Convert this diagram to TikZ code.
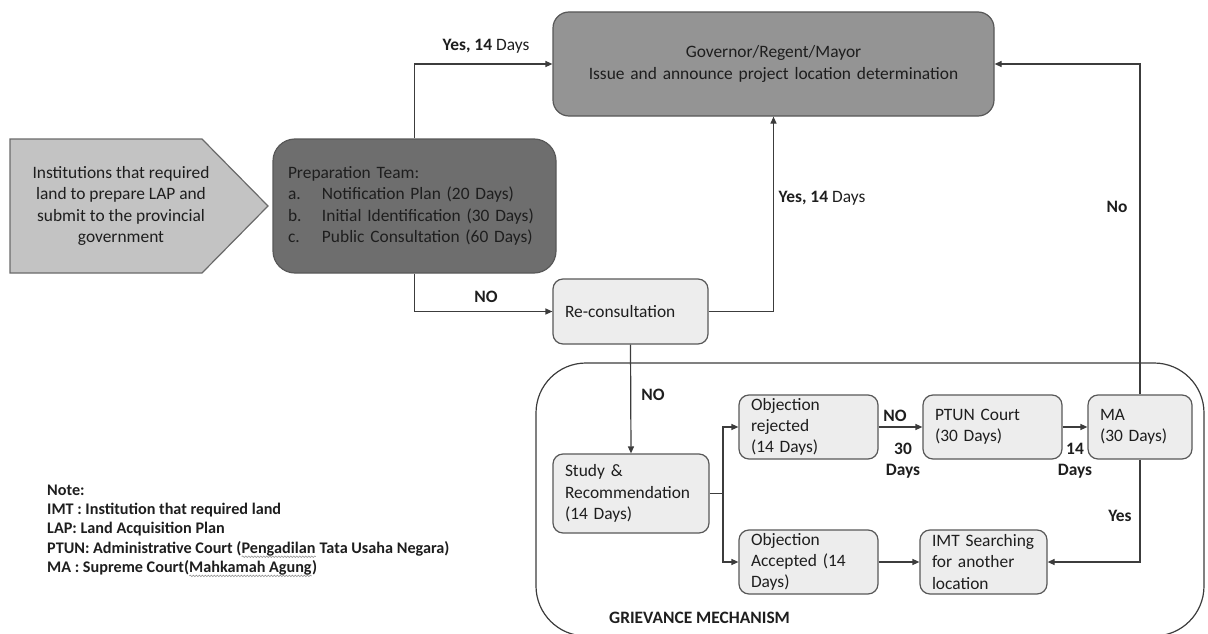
\documentclass[tikz,border=0pt]{standalone}
\usepackage{fontspec}
\setmainfont{Carlito}
\usetikzlibrary{arrows.meta,decorations.pathmorphing}

\definecolor{linegray}{HTML}{3C3C3C}
\definecolor{boxgray}{HTML}{585858}
\definecolor{palegray}{HTML}{EDEDED}
\definecolor{govgray}{HTML}{949494}
\definecolor{prepgray}{HTML}{6E6E6E}
\definecolor{pentgray}{HTML}{C3C3C3}
\definecolor{pentline}{HTML}{6A6A6A}
\definecolor{textcol}{HTML}{1E1E1E}
\definecolor{wavegray}{HTML}{8A8A8A}

\newcommand\boxfont{\fontsize{17.4}{21.3}\selectfont}
\newcommand\notefont{\fontsize{16.2}{19.2}\selectfont\bfseries}

% grey spell-check style wavy underline
\newsavebox\wavebox
\newcommand\spellwave[1]{\sbox\wavebox{#1}\rlap{\usebox\wavebox}%
  \tikz[x=1pt,y=1pt,baseline=0pt]\draw[wavegray, line width=0.5pt, decorate,
    decoration={snake, amplitude=0.8pt, segment length=3pt}] (0,-3.5) -- (\wd\wavebox,-3.5);}

\tikzset{
  box/.style={draw=boxgray, line width=1.2pt, fill=palegray, rounded corners=10pt,
    align=left, inner xsep=12pt, inner ysep=0pt, font=\boxfont, text=textcol},
  conn/.style={draw=linegray, line width=1.2pt, -{Triangle[length=7pt,width=6pt]}},
  plain/.style={draw=linegray, line width=1.2pt},
  lbl/.style={font=\boxfont, text=textcol, inner sep=0pt}
}

\begin{document}
\begin{tikzpicture}[x=1pt, y=-1pt]
\useasboundingbox (0,0) rectangle (1208,634);
\clip (0,0) rectangle (1208,634);

% grievance mechanism frame
\node[draw=linegray, line width=1.2pt, rounded corners=50pt,
      minimum width=668pt, minimum height=273pt, inner sep=0pt] (griev) at (870,499.5) {};
\node[lbl, anchor=west] (gmlabel) at (609,618) {\textbf{GRIEVANCE MECHANISM}};

% submitting institution (pentagon arrow)
\draw[draw=pentline, fill=pentgray, line width=1.2pt]
  (10,139) -- (202,139) -- (268,206) -- (202,273) -- (10,273) -- cycle;
\node[font=\boxfont, text=textcol, align=center, inner sep=0pt] (inst) at (121,206)
  {Institutions that required\\land to prepare LAP and\\submit to the provincial\\government};

% main boxes
\node[box, fill=govgray, rounded corners=16pt, align=center,
      minimum width=441pt, minimum height=104pt, text width=417pt] (gov) at (773.5,64)
  {Governor/Regent/Mayor\\Issue and announce project location determination};

\node[box, fill=prepgray, rounded corners=22pt, inner xsep=15pt,
      minimum width=283pt, minimum height=134pt, text width=253pt] (prep) at (414.5,206)
  {Preparation Team:\\
   \makebox[34pt][l]{a.}Notification Plan (20 Days)\\
   \makebox[34pt][l]{b.}Initial Identification (30 Days)\\
   \makebox[34pt][l]{c.}Public Consultation (60 Days)};

\node[box, minimum width=155pt, minimum height=65pt, text width=131pt] (recon) at (630.5,311.5)
  {Re-consultation};

\node[box, minimum width=156pt, minimum height=79pt, text width=132pt] (study) at (631,493.5)
  {Study \&\\Recommendation\\(14 Days)};

\node[box, minimum width=139pt, minimum height=64pt, text width=115pt] (objrej) at (808.5,427)
  {Objection\\rejected\\(14 Days)};
\node[box, minimum width=139pt, minimum height=64pt, text width=115pt] (ptun) at (992.5,427)
  {PTUN Court\\(30 Days)};
\node[box, minimum width=104pt, minimum height=64pt, text width=80pt] (ma) at (1140,427)
  {MA\\(30 Days)};

\node[box, minimum width=139pt, minimum height=64pt, text width=115pt] (objacc) at (808.5,562)
  {Objection\\Accepted (14\\Days)};
\node[box, minimum width=127pt, minimum height=64pt, text width=103pt] (imt) at (983.5,562)
  {IMT Searching\\for another\\location};

% connectors
\draw[conn] (prep.north) |- (gov.west);
\draw[conn] (ma.north) |- (gov.east);
\draw[conn] (prep.south) |- (recon.west);
\draw[conn] (recon.east) -| (gov.south);
\draw[conn] (recon.south) -- (study.north);
\coordinate (branch) at (723,493.5);
\draw[plain] (study.east) -- (branch);
\draw[conn] (branch) |- (objrej.west);
\draw[conn] (branch) |- (objacc.west);
\draw[conn] (objrej) -- (ptun);
\draw[conn] (ptun) -- (ma);
\draw[conn] (objacc) -- (imt);
\draw[conn] (ma.south) |- (imt.east);

% connector labels
\node[lbl] (lyes1) at (486,46) {\textbf{Yes, 14} Days};
\node[lbl] (lno1) at (486,297) {\textbf{NO}};
\node[lbl] (lyes2) at (822,198) {\textbf{Yes, 14} Days};
\node[lbl] (lno2) at (1117,207) {\textbf{No}};
\node[lbl] (lno3) at (653,395) {\textbf{NO}};
\node[lbl] (lno4) at (895,416) {\textbf{NO}};
\node[lbl, align=center] (l30) at (903,461) {\textbf{30}\\\textbf{Days}};
\node[lbl, align=center] (l14) at (1075,461) {\textbf{14}\\\textbf{Days}};
\node[lbl] (lyes3) at (1120,516) {\textbf{Yes}};

% abbreviations
\node[font=\notefont, text=textcol, align=left, anchor=west, inner sep=0pt] (note) at (47,531)
  {Note:\\
   IMT : Institution that required land\\
   LAP: Land Acquisition Plan\\
   PTUN: Administrative Court (\spellwave{Pengadilan} Tata Usaha Negara)\\
   MA : Supreme Court(\spellwave{Mahkamah Agung})};
\end{tikzpicture}
\end{document}
